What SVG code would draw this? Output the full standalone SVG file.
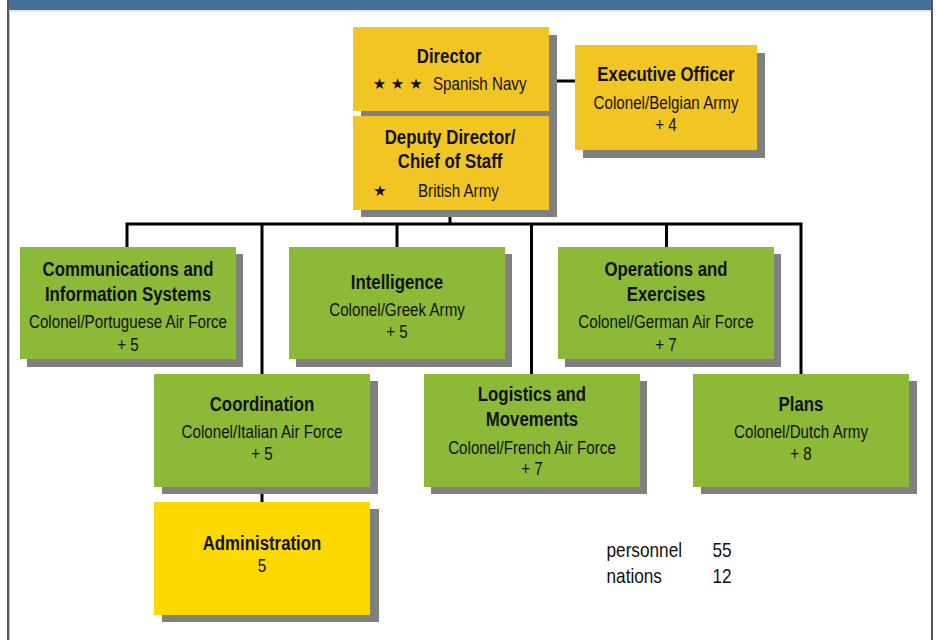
<svg xmlns="http://www.w3.org/2000/svg" width="936" height="640" viewBox="0 0 936 640">
<style>
text{font-family:"Liberation Sans",Arial,sans-serif;fill:#111;text-anchor:middle;transform-box:fill-box;transform-origin:center;transform:scaleX(0.82)}
.t{font-weight:bold;font-size:20.5px}
.s{font-size:18.5px}
.l{text-anchor:start;transform-origin:left}
.star{font-family:"DejaVu Sans",sans-serif;font-size:15px;transform:none}
.sh{fill:#808080}
.y{fill:#f1c523}
.g{fill:#8cba38}
.a{fill:#fdd900}
.c{stroke:#000;stroke-width:3;fill:none}
.info{font-size:21px}
</style>
<rect x="0" y="0" width="936" height="640" fill="#fff"/>
<rect x="9" y="0" width="923" height="10" fill="#44709a"/>
<rect x="9" y="10" width="923" height="1.5" fill="#d8dde3"/>
<line x1="8" y1="0" x2="8" y2="640" stroke="#555" stroke-width="2"/>
<line x1="9.5" y1="11" x2="9.5" y2="640" stroke="#c8c8c8" stroke-width="1"/>
<line x1="932" y1="0" x2="932" y2="640" stroke="#555" stroke-width="2"/>

<g id="connectors">
<path class="c" d="M549 81H575"/>
<path class="c" d="M450 210V224"/>
<path class="c" d="M127 247V224H801V374"/>
<path class="c" d="M262 224V374"/>
<path class="c" d="M397 224V247"/>
<path class="c" d="M531.5 224V374"/>
<path class="c" d="M666.5 224V247"/>
<path class="c" d="M262 487V502"/>
</g>

<g id="director">
<rect class="sh" x="361" y="35" width="196" height="182"/>
<rect class="y" x="353" y="27" width="196" height="84"/>
<text class="t" x="449" y="63">Director</text>
<text class="star" x="379.5" y="89">★</text>
<text class="star" x="397.5" y="89">★</text>
<text class="star" x="416" y="89">★</text>
<text class="s l" x="433" y="90">Spanish Navy</text>
</g>
<g id="deputy">
<rect class="y" x="353" y="116" width="196" height="94"/>
<text class="t" x="450" y="144">Deputy Director/</text>
<text class="t" x="450" y="168">Chief of Staff</text>
<text class="star" x="380" y="196">★</text>
<text class="s l" x="418" y="197">British Army</text>
</g>
<g id="exec">
<rect class="sh" x="583" y="53" width="182" height="105"/>
<rect class="y" x="575" y="45" width="182" height="105"/>
<text class="t" x="666" y="81">Executive Officer</text>
<text class="s" x="666" y="109">Colonel/Belgian Army</text>
<text class="s" x="666" y="131">+ 4</text>
</g>

<g id="cis">
<rect class="sh" x="27" y="254" width="216" height="113"/>
<rect class="g" x="20" y="247" width="216" height="112"/>
<text class="t" x="128" y="276">Communications and</text>
<text class="t" x="128" y="301.5">Information Systems</text>
<text class="s" x="128" y="328">Colonel/Portuguese Air Force</text>
<text class="s" x="128" y="351">+ 5</text>
</g>
<g id="intelligence">
<rect class="sh" x="296" y="254" width="216" height="113"/>
<rect class="g" x="289" y="247" width="216" height="112"/>
<text class="t" x="397" y="289">Intelligence</text>
<text class="s" x="397" y="316">Colonel/Greek Army</text>
<text class="s" x="397" y="338">+ 5</text>
</g>
<g id="operations">
<rect class="sh" x="565" y="254" width="216" height="113"/>
<rect class="g" x="558" y="247" width="216" height="112"/>
<text class="t" x="666" y="276">Operations and</text>
<text class="t" x="666" y="301.5">Exercises</text>
<text class="s" x="666" y="328">Colonel/German Air Force</text>
<text class="s" x="666" y="351">+ 7</text>
</g>
<g id="coordination">
<rect class="sh" x="162" y="381" width="216" height="113"/>
<rect class="g" x="154" y="374" width="216" height="113"/>
<text class="t" x="262" y="411">Coordination</text>
<text class="s" x="262" y="438">Colonel/Italian Air Force</text>
<text class="s" x="262" y="460">+ 5</text>
</g>
<g id="logistics">
<rect class="sh" x="431" y="381" width="216" height="113"/>
<rect class="g" x="424" y="374" width="216" height="113"/>
<text class="t" x="532" y="401.5">Logistics and</text>
<text class="t" x="532" y="426.5">Movements</text>
<text class="s" x="532" y="454">Colonel/French Air Force</text>
<text class="s" x="532" y="475.5">+ 7</text>
</g>
<g id="plans">
<rect class="sh" x="701" y="381" width="216" height="113"/>
<rect class="g" x="693" y="374" width="216" height="113"/>
<text class="t" x="801" y="411.5">Plans</text>
<text class="s" x="801" y="438">Colonel/Dutch Army</text>
<text class="s" x="801" y="460.5">+ 8</text>
</g>
<g id="administration">
<rect class="sh" x="162" y="509" width="217" height="113"/>
<rect class="a" x="154" y="502" width="216" height="113"/>
<text class="t" x="262" y="550">Administration</text>
<text class="s" x="262" y="572">5</text>
</g>

<g id="summary">
<text class="info l" x="606.5" y="557">personnel</text>
<text class="info l" x="712.5" y="557">55</text>
<text class="info l" x="606.5" y="583">nations</text>
<text class="info l" x="712.5" y="583">12</text>
</g>
</svg>
